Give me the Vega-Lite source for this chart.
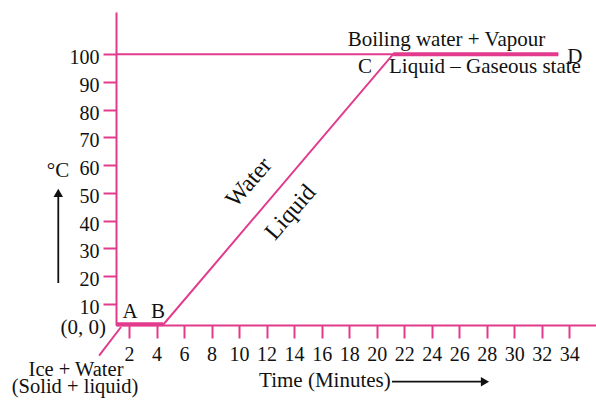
{
  "$schema": "https://vega.github.io/schema/vega-lite/v6.json",
  "width": 480,
  "height": 313,
  "autosize": {"type": "none"},
  "padding": {"left": 116, "top": 12, "right": 0, "bottom": 77},
  "background": "white",
  "config": {
    "view": {"stroke": null},
    "axis": {
      "domainColor": "#e23a8c",
      "domainWidth": 2,
      "tickColor": "#e23a8c",
      "tickWidth": 2,
      "tickSize": 13,
      "grid": false,
      "labelFont": "Liberation Serif",
      "labelFontSize": 20,
      "labelColor": "#111111",
      "labelOverlap": false,
      "labelFlush": false,
      "title": null
    },
    "text": {"font": "Liberation Serif", "color": "#111111"}
  },
  "encoding": {
    "x": {
      "field": "x",
      "type": "quantitative",
      "scale": {"domain": [0, 2, 35.94], "range": [0, 13, 480], "nice": false, "zero": false},
      "axis": {"values": [2, 4, 6, 8, 10, 12, 14, 16, 18, 20, 22, 24, 26, 28, 30, 32, 34], "labelPadding": 6}
    },
    "y": {
      "field": "y",
      "type": "quantitative",
      "scale": {"domain": [0, 10, 115.2], "range": [313, 292, 0], "nice": false, "zero": false},
      "axis": {"values": [10, 20, 30, 40, 50, 60, 70, 80, 90, 100], "labelPadding": 4, "labelOffset": 3.5}
    }
  },
  "layer": [
    {
      "data": {"values": [{"x": 0, "y": 100, "x2": 21.2}]},
      "mark": {"type": "rule", "color": "#e23a8c", "strokeWidth": 2, "clip": false},
      "encoding": {"x2": {"field": "x2"}}
    },
    {
      "data": {"values": [
        {"point": "A", "x": 0, "y": 0},
        {"point": "B", "x": 4.47, "y": 0},
        {"point": "C", "x": 21.2, "y": 100},
        {"point": "D", "x": 33.2, "y": 100}
      ]},
      "mark": {"type": "line", "color": "#e23a8c", "strokeWidth": 2, "clip": false},
      "encoding": {}
    },
    {
      "data": {"values": [
        {"segment": "AB", "x": 0, "y": 0.3, "x2": 4.47},
        {"segment": "CD", "x": 21.2, "y": 100, "x2": 33.2}
      ]},
      "mark": {"type": "rule", "color": "#e23a8c", "strokeWidth": 4, "clip": false},
      "encoding": {"x2": {"field": "x2"}}
    },
    {
      "data": {"values": [{"x": 0.77, "y": -0.95, "x2": -2.6, "y2": -14.6}]},
      "mark": {"type": "rule", "color": "#e23a8c", "strokeWidth": 2, "clip": false},
      "encoding": {"x2": {"field": "x2"}, "y2": {"field": "y2"}}
    },
    {
      "data": {"values": [
        {"arrow": "time", "x": 21.11, "y": -27, "x2": 27.87, "y2": -27},
        {"arrow": "temp", "x": -8.88, "y": 17.57, "x2": -8.88, "y2": 50}
      ]},
      "mark": {"type": "rule", "color": "#111111", "strokeWidth": 1.8, "clip": false},
      "encoding": {"x2": {"field": "x2"}, "y2": {"field": "y2"}}
    },
    {
      "data": {"values": [{"x": 27.87, "y": -27}]},
      "mark": {"type": "point", "shape": "triangle-right", "filled": true, "color": "#111111", "size": 90, "opacity": 1, "clip": false}
    },
    {
      "data": {"values": [{"x": -8.88, "y": 50}]},
      "mark": {"type": "point", "shape": "triangle-up", "filled": true, "color": "#111111", "size": 90, "opacity": 1, "clip": false}
    },
    {
      "data": {"values": [
        {"label": "A", "x": 2.07, "y": 3.33},
        {"label": "B", "x": 4.11, "y": 3.33},
        {"label": "C", "x": 19.15, "y": 93.3},
        {"label": "D", "x": 34.4, "y": 97.0},
        {"label": "Boiling water + Vapour", "x": 25.07, "y": 103.0},
        {"label": "Liquid – Gaseous state", "x": 27.87, "y": 93.2},
        {"label": "Time (Minutes)", "x": 16.24, "y": -29.4},
        {"label": "°C", "x": -8.92, "y": 55.8}
      ]},
      "mark": {"type": "text", "fontSize": 21, "align": "center", "baseline": "alphabetic", "clip": false},
      "encoding": {"text": {"field": "label"}}
    },
    {
      "data": {"values": [
        {"label": "Ice + Water", "x": -6.15, "y": -24.3},
        {"label": "(Solid + liquid)", "x": -6.3, "y": -32.2}
      ]},
      "mark": {"type": "text", "fontSize": 20.5, "align": "center", "baseline": "alphabetic", "clip": false},
      "encoding": {"text": {"field": "label"}}
    },
    {
      "data": {"values": [{"label": "(0, 0)", "x": -1.54, "y": -4.05}]},
      "mark": {"type": "text", "fontSize": 21, "align": "right", "baseline": "alphabetic", "clip": false},
      "encoding": {"text": {"field": "label"}}
    },
    {
      "data": {"values": [
        {"label": "Water", "x": 10.72, "y": 53.8},
        {"label": "Liquid", "x": 13.75, "y": 43.0}
      ]},
      "mark": {"type": "text", "fontSize": 24, "angle": -49, "align": "center", "baseline": "middle", "clip": false},
      "encoding": {"text": {"field": "label"}}
    }
  ]
}
